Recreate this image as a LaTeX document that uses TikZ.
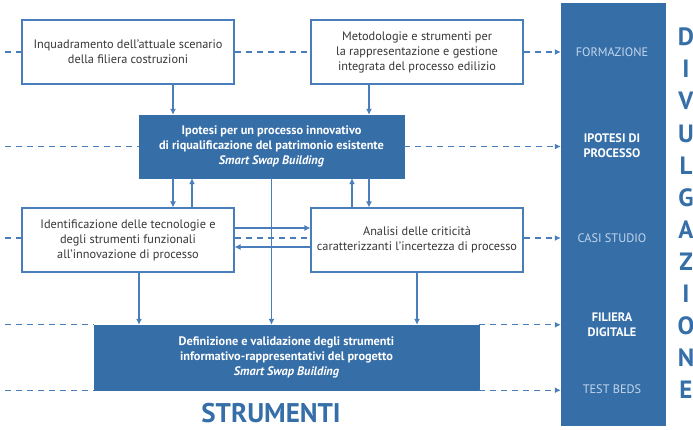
\documentclass[tikz,border=0pt]{standalone}
\usepackage{fontspec}
\setmainfont{PT Sans}
\usepackage{tikz}
\usetikzlibrary{arrows.meta,positioning,calc}
\definecolor{ssblue}{RGB}{54,110,168}
\definecolor{ssline}{RGB}{74,126,186}
\definecolor{sstext}{RGB}{55,55,55}
\definecolor{sslight}{RGB}{196,214,236}
\tikzset{
  wbox/.style={draw=ssline, line width=1.1pt, fill=white, align=center, text=sstext, minimum width=212pt, minimum height=64pt, font=\fontsize{12.3}{15}\selectfont},
  dbox/.style={draw=ssblue, fill=ssblue, align=center, text=white, font=\fontsize{12.3}{15}\selectfont\bfseries},
  panel/.style={draw=ssblue, fill=ssblue, minimum width=104pt, minimum height=422pt},
  plab/.style={text=sslight, align=center, font=\fontsize{12.3}{15}\selectfont},
  pbold/.style={text=white, align=center, font=\fontsize{12.3}{15}\selectfont\bfseries},
  vert/.style={text=ssblue, font=\fontsize{25}{25}\selectfont\bfseries},
  arrow/.style={-{Latex[length=6pt,width=6pt]}, ssline, line width=1.1pt},
  link/.style={ssline, line width=1.1pt, dash pattern=on 6pt off 5pt},
  linkarrow/.style={link, -{Latex[length=6pt,width=6pt]}}
}

\begin{document}
\begin{tikzpicture}[x=1pt,y=-1pt]
  \useasboundingbox (0,0) rectangle (693,429);
  \coordinate (edge) at (5,0);

  % right column
  \node[panel] (P) at (613,214) {};
  \node[plab] (form) at (612,52) {FORMAZIONE};
  \node[pbold] (ipo) at (612,146) {IPOTESI DI\\PROCESSO};
  \node[plab] (casi) at (612,238) {CASI STUDIO};
  \node[pbold] (fil) at (612,325) {FILIERA\\DIGITALE};
  \node[plab] (test) at (612,389) {TEST BEDS};
  \foreach \l [count=\i] in {D,I,V,U,L,G,A,Z,I,O,N,E}
    \node[vert] (v\i) at (686,{5+32.1*\i}) {\l};

  % boxes
  \node[wbox] (A) at (128,52) {Inquadramento dell’attuale scenario\\della filiera costruzioni};
  \node[wbox] (B) at (417,52) {Metodologie e strumenti per\\la rappresentazione e gestione\\integrata del processo edilizio};
  \node[dbox, minimum width=265pt, minimum height=63pt] (C) at (271.5,146.5) {Ipotesi per un processo innovativo\\di riqualificazione del patrimonio esistente\\\textit{Smart Swap Building}};
  \node[wbox] (D) at (128,240) {Identificazione delle tecnologie e\\degli strumenti funzionali\\all’innovazione di processo};
  \node[wbox] (E) at (417,240) {Analisi delle criticità\\caratterizzanti l’incertezza di processo};
  \node[dbox, minimum width=385pt, minimum height=65pt] (F) at (286.5,357.5) {Definizione e validazione degli strumenti\\informativo-rappresentativi del progetto\\\textit{Smart Swap Building}};
  \node[text=ssblue, font=\fontsize{27}{27}\selectfont\bfseries, inner sep=0pt, anchor=base] (strum) at (271,422.5) {STRUMENTI};

  % dashed links
  \draw[link] (edge |- A.west) -- (A.west);
  \draw[link] (A.east) -- (B.west);
  \draw[linkarrow] (B.east) -- (B.east -| P.west);
  \draw[link] (edge |- C.west) -- (C.west);
  \draw[linkarrow] (C.east) -- (C.east -| P.west);
  \draw[link] ([yshift=2pt]edge |- D.west) -- ([yshift=2pt]D.west);
  \draw[link] ([yshift=2pt]D.east) -- ([yshift=2pt]E.west);
  \draw[linkarrow] ([yshift=2pt]E.east) -- ([yshift=2pt]E.east -| P.west);
  \draw[link] (edge |- F.north west) -- (F.north west);
  \draw[link] (edge |- F.south west) -- (F.south west);
  \draw[linkarrow] (F.north east) -- (F.north east -| P.west);
  \draw[linkarrow] (F.south east) -- (F.south east -| P.west);

  % flow
  \draw[arrow] ([xshift=45pt]A.south) -- ([xshift=45pt]A.south |- C.north);
  \draw[arrow] ([xshift=-48pt]B.south) -- ([xshift=-48pt]B.south |- C.north);
  \draw[arrow] ([xshift=-98.5pt]C.south) -- ([xshift=-98.5pt]C.south |- D.north);
  \draw[arrow] ([xshift=64pt]D.north) -- ([xshift=64pt]D.north |- C.south);
  \draw[arrow] (C.south) -- (C.south |- F.north);
  \draw[arrow] ([xshift=-65pt]E.north) -- ([xshift=-65pt]E.north |- C.south);
  \draw[arrow] ([xshift=97.5pt]C.south) -- ([xshift=97.5pt]C.south |- E.north);
  \draw[arrow] ([yshift=12pt]D.east) -- ([yshift=12pt]D.east -| E.west);
  \draw[arrow] ([yshift=-7pt]E.west) -- ([yshift=-7pt]E.west -| D.east);
  \draw[arrow] ([xshift=11pt]D.south) -- ([xshift=11pt]D.south |- F.north);
  \draw[arrow] (E.south) -- (E.south |- F.north);
\end{tikzpicture}
\end{document}
